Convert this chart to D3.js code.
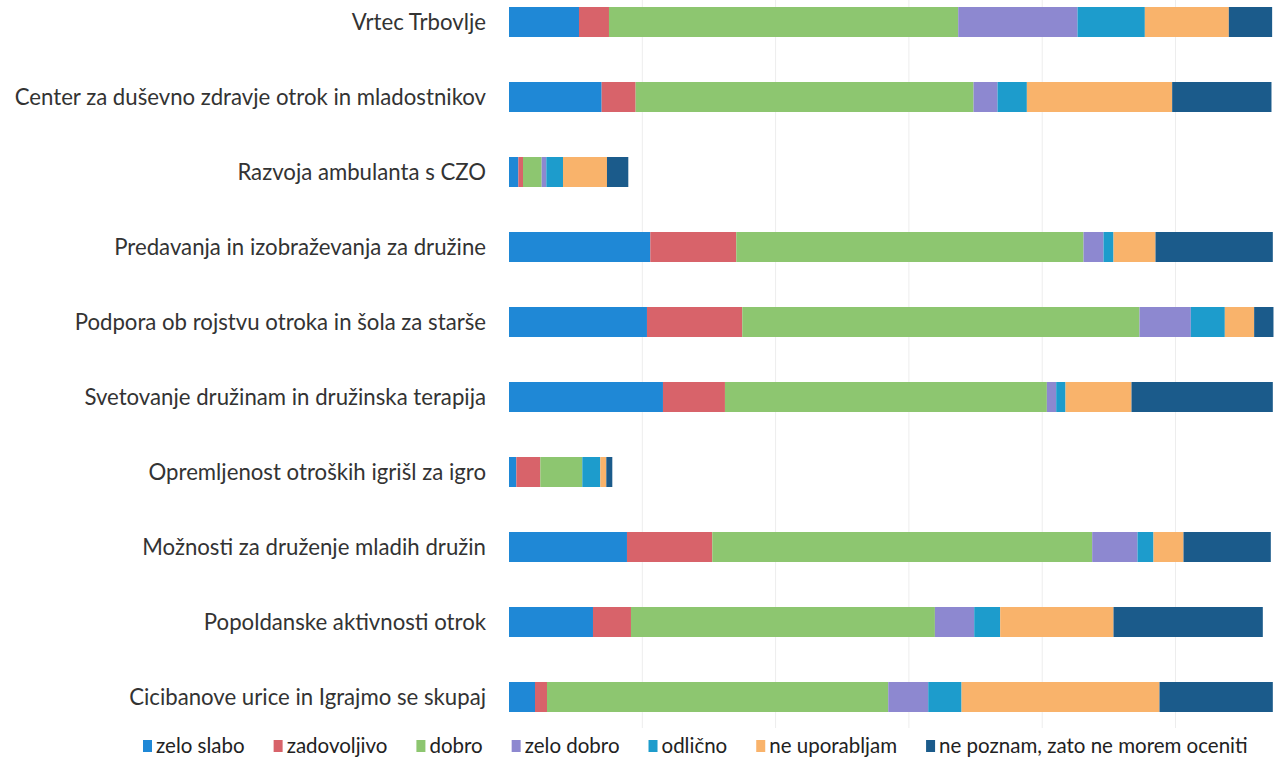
<!DOCTYPE html>
<html lang="sl">
<head>
    <meta charset="UTF-8">
    <title>Ocena storitev</title>
    <script src="https://d3js.org/d3.v7.min.js"></script>
    <style>
        body { margin: 0; background: #fff; }
        svg { display: block; font-family: Lato, "Open Sans", sans-serif; }
    </style>
</head>
<body>
    <svg width="1279" height="757"></svg>

    <script>
        const categories = [
            "Vrtec Trbovlje",
            "Center za duševno zdravje otrok in mladostnikov",
            "Razvoja ambulanta s CZO",
            "Predavanja in izobraževanja za družine",
            "Podpora ob rojstvu otroka in šola za starše",
            "Svetovanje družinam in družinska terapija",
            "Opremljenost otroških igrišl za igro",
            "Možnosti za druženje mladih družin",
            "Popoldanske aktivnosti otrok",
            "Cicibanove urice in Igrajmo se skupaj"
        ];

        const seriesNames = ["zelo slabo", "zadovoljivo", "dobro", "zelo dobro", "odlično", "ne uporabljam", "ne poznam, zato ne morem oceniti"];
        const colors = ["#1f88d6", "#d8636a", "#8dc670", "#8d88d0", "#1d9ccc", "#f9b36b", "#1b5b8b"];

        // one array per answer, same order as categories
        const zeloSlabo    = [10.5, 13.9, 1.4, 21.2, 20.7, 23.1, 1.1, 17.7, 12.6, 3.9];
        const zadovoljivo  = [4.5,  5.1,  0.7, 12.9, 14.3, 9.3,  3.6, 12.8, 5.7,  1.8];
        const dobro        = [52.4, 50.7, 2.8, 52.1, 59.6, 48.3, 6.3, 57.0, 45.6, 51.2];
        const zeloDobro    = [17.9, 3.6,  0.7, 3.0,  7.7,  1.4,  0.0, 6.8,  5.9,  6.0];
        const odlicno      = [10.1, 4.4,  2.5, 1.5,  5.1,  1.4,  2.7, 2.4,  3.9,  5.0];
        const neUporabljam = [12.6, 21.8, 6.6, 6.3,  4.4,  9.9,  0.9, 4.5,  17.0, 29.7];
        const nePoznam     = [6.5,  14.9, 3.2, 17.6, 2.9,  21.2, 0.9, 13.1, 22.4, 17.0];

        const gridTicks = [20, 40, 60, 80, 100];

        const columns = [zeloSlabo, zadovoljivo, dobro, zeloDobro, odlicno, neUporabljam, nePoznam];
        const rows = categories.map((c, i) => {
            const r = { name: c };
            seriesNames.forEach((s, j) => r[s] = columns[j][i]);
            return r;
        });

        const svg = d3.select("svg");

        const x = d3.scaleLinear().domain([0, 120]).range([509, 1308.8]);
        const y = d3.scaleBand().domain(categories).range([-15.5, 734.5])
            .paddingInner(0.6).paddingOuter(0.3);

        // faint vertical gridlines
        svg.append("g")
            .selectAll("line")
            .data(gridTicks)
            .join("line")
            .attr("x1", d => x(d)).attr("x2", d => x(d))
            .attr("y1", 0).attr("y2", 728)
            .attr("stroke", "#ededed")
            .attr("stroke-width", 1);

        const stack = d3.stack().keys(seriesNames)(rows);
        const color = d3.scaleOrdinal().domain(seriesNames).range(colors);

        svg.append("g")
            .selectAll("g")
            .data(stack)
            .join("g")
            .attr("fill", d => color(d.key))
            .selectAll("rect")
            .data(d => d)
            .join("rect")
            .attr("x", d => x(d[0]))
            .attr("y", d => y(d.data.name))
            .attr("width", d => x(d[1]) - x(d[0]))
            .attr("height", y.bandwidth());

        // category labels
        svg.append("g")
            .selectAll("text")
            .data(categories)
            .join("text")
            .attr("x", 486)
            .attr("y", d => y(d) + y.bandwidth() / 2)
            .attr("dy", "0.35em")
            .attr("text-anchor", "end")
            .attr("font-size", 22.2)
            .attr("fill", "#333")
            .text(d => d);

        // legend
        const legend = svg.append("g");
        let lx = 143;
        seriesNames.forEach((s, i) => {
            const g = legend.append("g");
            g.append("rect")
                .attr("x", lx).attr("y", 740)
                .attr("width", 9).attr("height", 12)
                .attr("fill", colors[i]);
            const t = g.append("text")
                .attr("x", lx + 13).attr("y", 746)
                .attr("dy", "0.35em")
                .attr("font-size", 20.5)
                .attr("fill", "#222")
                .text(s);
            lx += 13 + t.node().getComputedTextLength() + 29;
        });
    </script>
</body>
</html>
